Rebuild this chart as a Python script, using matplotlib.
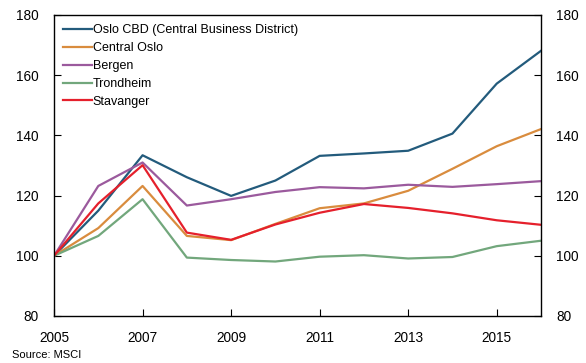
import matplotlib
matplotlib.use("Agg")
import matplotlib.pyplot as plt

plt.rcParams['font.family'] = ['Liberation Sans', 'DejaVu Sans']

years = [2005, 2006, 2007, 2008, 2009, 2010, 2011, 2012, 2013, 2014, 2015, 2016]
oslo_cbd = [100, 115.0, 133.4, 126.1, 119.9, 125.0, 133.2, 134.0, 134.9, 140.6, 157.2, 168.1]
central_oslo = [100, 109.2, 123.2, 106.6, 105.2, 110.6, 115.8, 117.4, 121.6, 128.9, 136.4, 142.1]
bergen = [100, 123.2, 131.0, 116.7, 118.8, 121.2, 122.8, 122.4, 123.6, 122.9, 123.8, 124.8]
trondheim = [100, 106.6, 118.8, 99.4, 98.6, 98.1, 99.7, 100.2, 99.1, 99.6, 103.2, 105.0]
stavanger = [100, 117.4, 130.1, 107.7, 105.3, 110.4, 114.3, 117.2, 115.9, 114.1, 111.8, 110.3]

series = [
    ("Oslo CBD (Central Business District)", oslo_cbd, "#235b7c"),
    ("Central Oslo", central_oslo, "#d98c3e"),
    ("Bergen", bergen, "#9b5a9d"),
    ("Trondheim", trondheim, "#72a77c"),
    ("Stavanger", stavanger, "#e5202c"),
]

xticks = [2005, 2007, 2009, 2011, 2013, 2015]
yticks = [80, 100, 120, 140, 160, 180]

fig = plt.figure(figsize=(5.86, 3.63), dpi=100)
ax = fig.add_axes([0.0922, 0.1295, 0.8310, 0.8292])

for name, vals, col in series:
    ax.plot(years, vals, color=col, lw=1.6, label=name)

ax.set_xlim(2005, 2016)
ax.set_ylim(80, 180)
ax.set_xticks(xticks)
ax.set_xticklabels([str(x) for x in xticks])
ax.set_yticks(yticks)
ax.set_yticklabels([str(y) for y in yticks])

ax.tick_params(axis='x', direction='in', length=5, labelsize=9.8, pad=11, top=False)
ax.tick_params(axis='y', direction='in', length=5, labelsize=9.8, pad=11,
               left=True, right=True, labelleft=True, labelright=True)

for s in ax.spines.values():
    s.set_linewidth(1.0)
    s.set_color('black')

leg = ax.legend(loc='upper left', frameon=False, fontsize=9,
                handlelength=2.25, handletextpad=0.1, labelspacing=0.47,
                borderaxespad=0.4, borderpad=0.35)

fig.text(12 / 586, 1 - 355 / 363, "Source: MSCI", fontsize=8, ha='left', va='center')

fig.savefig("out.png", dpi=100)
